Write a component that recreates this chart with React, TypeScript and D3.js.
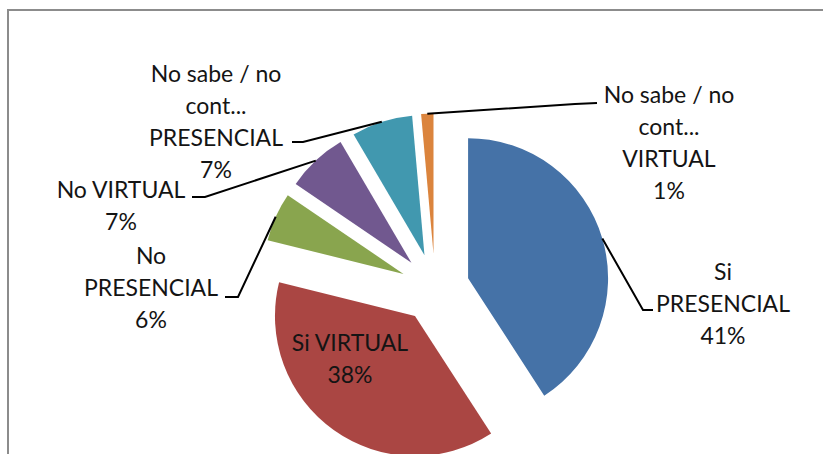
import React from "react";
import * as d3 from "d3";

const categories = [
  "Si PRESENCIAL",
  "Si VIRTUAL",
  "No PRESENCIAL",
  "No VIRTUAL",
  "No sabe / no cont... PRESENCIAL",
  "No sabe / no cont... VIRTUAL",
];
const counts = [29, 27, 4, 5, 5, 1];
const labelLines: string[][] = [
  ["Si", "PRESENCIAL"],
  ["Si VIRTUAL"],
  ["No", "PRESENCIAL"],
  ["No VIRTUAL"],
  ["No sabe / no", "cont...", "PRESENCIAL"],
  ["No sabe / no", "cont...", "VIRTUAL"],
];
const colors = ["#4572A7", "#AA4643", "#89A54E", "#71588F", "#4198AF", "#DB843D"];

// layout: label anchor (center x, first baseline y) and leader elbow/end
const labelLayout = [
  { x: 723, y: 280, elbow: [643, 310], end: [653, 310] },
  { x: 350, y: 351, elbow: null, end: null },
  { x: 151, y: 264, elbow: [238, 297], end: [225, 297] },
  { x: 121, y: 198, elbow: [205, 197], end: [192, 197] },
  { x: 216, y: 82, elbow: [303, 142], end: [292, 142] },
  { x: 669, y: 103, elbow: [575, 104], end: [597, 103] },
];

const W = 823;
const H = 454;
const cx = 435;
const cy = 288;
const R = 140;
const explode = 34.5;
const lineH = 32;

export default function App() {
  const total = d3.sum(counts);
  const pie = d3.pie<number>().sort(null).value((d) => d);
  const arcs = pie(counts);
  const arc = d3.arc<d3.PieArcDatum<number>>().innerRadius(0).outerRadius(R);
  const rimArc = d3.arc<d3.PieArcDatum<number>>().innerRadius(R).outerRadius(R);
  const fmt = (v: number) => `${Math.round((v / total) * 100)}%`;

  return (
    <svg
      width={W}
      height={H}
      style={{ position: "fixed", left: 0, top: 0, background: "#fff" }}
      fontFamily="Lato, 'Open Sans', sans-serif"
    >
      <rect x={0} y={0} width={W} height={H} fill="#fff" />
      <line x1={7} y1={10} x2={W} y2={10} stroke="#8c8c8c" strokeWidth={2} />
      <line x1={8} y1={9} x2={8} y2={H} stroke="#8c8c8c" strokeWidth={2} />
      {arcs.map((a, i) => {
        const mid = (a.startAngle + a.endAngle) / 2;
        const ox = cx + explode * Math.sin(mid);
        const oy = cy - explode * Math.cos(mid);
        const [rx, ry] = rimArc.centroid(a);
        const L = labelLayout[i];
        return (
          <g key={categories[i]}>
            <path d={arc(a) || ""} transform={`translate(${ox},${oy})`} fill={colors[i]} />
            {L.elbow && L.end && (
              <polyline
                points={`${ox + rx},${oy + ry} ${L.elbow[0]},${L.elbow[1]} ${L.end[0]},${L.end[1]}`}
                fill="none"
                stroke="#000"
                strokeWidth={2}
              />
            )}
          </g>
        );
      })}
      {arcs.map((a, i) => {
        const L = labelLayout[i];
        const lines = [...labelLines[i], fmt(counts[i])];
        return (
          <text key={"t" + i} x={L.x} textAnchor="middle" fontSize={23} fill="#141414">
            {lines.map((s, j) => (
              <tspan key={j} x={L.x} y={L.y + j * lineH}>
                {s}
              </tspan>
            ))}
          </text>
        );
      })}
    </svg>
  );
}
